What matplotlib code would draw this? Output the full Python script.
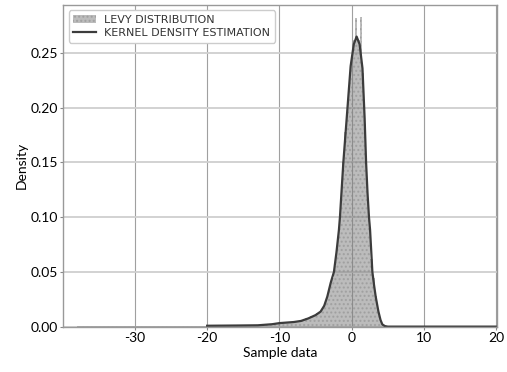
import numpy as np
import matplotlib
matplotlib.use("Agg")
import matplotlib.pyplot as plt

# KDE curve
kde_x = [-20, -16, -13, -11, -10, -8, -7, -6, -5, -4.3, -3.8, -3.37, -2.9, -2.45,
         -2.1, -1.76, -1.62, -1.15, -0.7, -0.14, 0.3, 0.69, 1.1, 1.5, 1.8, 2.0,
         2.2, 2.4, 2.55, 2.87, 3.1, 3.33, 3.7, 4.0, 4.25, 4.6, 5.0, 6, 10, 15, 20]
kde_y = [0.0008, 0.0010, 0.0012, 0.0022, 0.0032, 0.0042, 0.0052, 0.0075, 0.0105,
         0.0137, 0.019, 0.0274, 0.040, 0.050, 0.068, 0.0885, 0.100, 0.150, 0.189,
         0.238, 0.258, 0.265, 0.258, 0.236, 0.190, 0.150, 0.122, 0.100, 0.0885,
         0.050, 0.038, 0.0274, 0.014, 0.006, 0.002, 0.0005, 0.0, 0.0, 0.0, 0.0, 0.0]

# histogram, core part (bin width 0.3, first bin starts at -10)
core_start = -10.0
core_width = 0.3
core_heights = [0.003, 0.0035, 0.003, 0.004, 0.0035, 0.0045, 0.004, 0.005, 0.0045,
                0.0055, 0.006, 0.0065, 0.0075, 0.008, 0.0095, 0.010, 0.011, 0.0125,
                0.0135, 0.015, 0.019, 0.023, 0.029, 0.037, 0.044, 0.055, 0.072,
                0.090, 0.115, 0.150, 0.178, 0.205, 0.228, 0.245, 0.262, 0.282,
                0.262, 0.283, 0.232, 0.185, 0.135, 0.098, 0.062, 0.044, 0.028,
                0.016, 0.007, 0.002, 0.0008, 0.0, 0.0, 0.0]

# histogram, left tail (bin width 1.0, first bin starts at -38)
tail_start = -38.0
tail_width = 1.0
tail_heights = [0.0006, 0.0004, 0.0007, 0.0005, 0.0006, 0.0004, 0.0007, 0.0005,
                0.0006, 0.0005, 0.0007, 0.0004, 0.0006, 0.0005, 0.0007, 0.0006,
                0.0005, 0.0008, 0.0007, 0.0009, 0.0010, 0.0009, 0.0011, 0.0016,
                0.0012, 0.0013, 0.0018, 0.0022]

x_ticks = [-30, -20, -10, 0, 10, 20]
y_ticks = [0.00, 0.05, 0.10, 0.15, 0.20, 0.25]

plt.rcParams["font.family"] = ["Lato", "DejaVu Sans"]

fig = plt.figure(figsize=(5.07, 3.72), dpi=100)
ax = fig.add_axes([0.125, 0.122, 0.855, 0.865])

core_x = core_start + core_width * (np.arange(len(core_heights)) + 0.5)
tail_x = tail_start + tail_width * (np.arange(len(tail_heights)) + 0.5)

hist_style = dict(color="#7a7a7a", alpha=0.5, hatch="....", edgecolor="#8a8a8a",
                  linewidth=0)
ax.bar(tail_x, tail_heights, width=tail_width, **hist_style)
bars = ax.bar(core_x, core_heights, width=core_width, **hist_style)
line, = ax.plot(kde_x, kde_y, color="#3c3c3c", lw=1.6)

ax.set_xlim(-39.9, 20.1)
ax.set_ylim(0, 0.294)
ax.set_xticks(x_ticks)
ax.set_xticklabels([str(v) for v in x_ticks])
ax.set_yticks(y_ticks)
ax.set_yticklabels(["%.2f" % v for v in y_ticks])
ax.tick_params(labelsize=10, length=2.5, color="#888888", pad=1.5)

ax.set_axisbelow(True)
ax.yaxis.grid(True, color="#cfcfcf", lw=1.3)
ax.xaxis.grid(True, color="#a0a0a0", lw=0.8)
for s in ax.spines.values():
    s.set_color("#999999")
    s.set_linewidth(1.0)

ax.set_xlabel("Sample data", fontsize=10, labelpad=2)
ax.set_ylabel("Density", fontsize=10, labelpad=2)

leg = ax.legend([bars, line], ["LEVY DISTRIBUTION", "KERNEL DENSITY ESTIMATION"],
                loc="upper left", prop={"family": "DejaVu Sans", "size": 8},
                frameon=True, fancybox=True, framealpha=1.0, edgecolor="#cccccc",
                borderpad=0.4, handlelength=2.0, labelspacing=0.3)
for t in leg.get_texts():
    t.set_color("#333333")

fig.savefig("out.png", dpi=100)
